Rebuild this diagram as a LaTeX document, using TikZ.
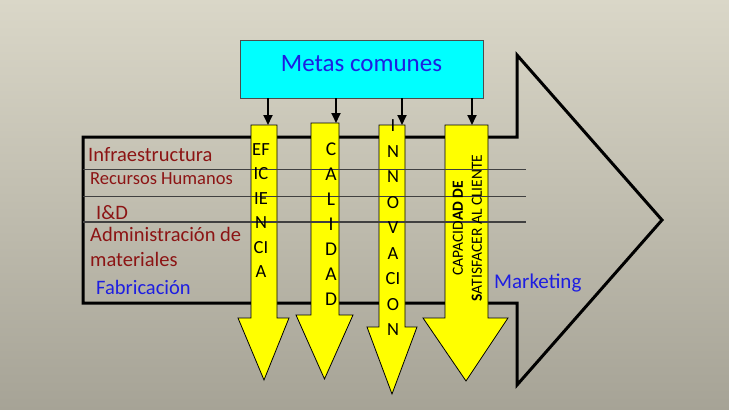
\documentclass[tikz,border=0pt]{standalone}
\usepackage{fontspec}
\setmainfont{Carlito}
\usetikzlibrary{arrows.meta}
\definecolor{bgtop}{RGB}{218,215,200}
\definecolor{bgbot}{RGB}{166,163,150}
\definecolor{dred}{RGB}{140,20,20}
\definecolor{tblue}{RGB}{30,30,225}
\definecolor{boxcyan}{RGB}{0,255,255}
\definecolor{ayellow}{RGB}{255,255,0}
\begin{document}
\begin{tikzpicture}[x=1pt,y=-1pt,
  bigarrow/.style={draw=black,line width=3pt,line join=miter},
  yarrow/.style={fill=ayellow,draw=black,line width=0.8pt,line join=miter},
  thinline/.style={draw=black!75,line width=1.1pt},
  lbl/.style={anchor=base west,inner sep=0pt,text=dred,font=\fontsize{20.5}{24}\selectfont},
  bluelbl/.style={anchor=base west,inner sep=0pt,text=tblue,font=\fontsize{21}{24}\selectfont},
  letters/.style={align=center,inner sep=0pt},
  metabox/.style={draw=black!70,line width=0.8pt,fill=boxcyan,minimum width=243pt,minimum height=58pt,
    text=tblue,font=\fontsize{25}{30}\selectfont,text height=16pt,text depth=12pt},
  conn/.style={draw=black,line width=1.8pt,-{Triangle[length=10pt,width=9pt]}}
]
\useasboundingbox (0,0) rectangle (729,410);
\shade[top color=bgtop,bottom color=bgbot] (0,0) rectangle (729,410);

% big arrow outline
\draw[bigarrow] (83,137) -- (517,137) -- (517,55) -- (662,220) -- (517,385) -- (517,303) -- (83,303) -- cycle;

% yellow arrows
\filldraw[yarrow] (251,125) -- (277,125) -- (277,318) -- (289,318) -- (264,380) -- (238,318) -- (251,318) -- cycle;
\filldraw[yarrow] (311,123) -- (339,123) -- (339,315) -- (353,315) -- (324.5,379) -- (296,315) -- (311,315) -- cycle;
\filldraw[yarrow] (379,125) -- (405,125) -- (405,327) -- (417,327) -- (392,394) -- (367,327) -- (379,327) -- cycle;
\filldraw[yarrow] (445,125) -- (488,125) -- (488,318) -- (508,318) -- (466,381) -- (423,318) -- (445,318) -- cycle;

% thin lines
\coordinate (l1a) at (83,169.5); \coordinate (l1b) at (526,169.5);
\coordinate (l2a) at (83,196.5); \coordinate (l2b) at (526,196.5);
\coordinate (l3a) at (83,222);   \coordinate (l3b) at (526,222);
\draw[thinline] (l1a) -- (l1b);
\draw[thinline] (l2a) -- (l2b);
\draw[thinline] (l3a) -- (l3b);

% left labels
\node[lbl] (infra) at (88,161) {Infraestructura};
\node[lbl,font=\fontsize{18.5}{22}\selectfont] (rrhh) at (90,184) {Recursos Humanos};
\node[lbl] (id) at (96,219) {I\&D};
\node[lbl] (adm) at (90,241) {Administración de};
\node[lbl] (mat) at (90,266) {materiales};
\node[bluelbl,font=\fontsize{20.5}{24}\selectfont] (fab) at (96,294) {Fabricación};
\node[bluelbl] (mkt) at (494,288) {Marketing};

% letters in yellow arrows
\node[letters,font=\fontsize{18.5}{24.5}\selectfont] (efi) at (261,210.4) {EF\\IC\\IE\\N\\CI\\A};
\node[letters,font=\fontsize{19.5}{25}\selectfont] (cal) at (331,223.9) {C\\A\\L\\I\\D\\A\\D};
\node[letters,font=\fontsize{18.5}{25.5}\selectfont] (inn) at (393,228) {I\\N\\N\\O\\V\\A\\CI\\O\\N};
\node[letters,rotate=90,font=\fontsize{15.5}{19}\selectfont] (cap) at (467.5,228) {CAPACID\textbf{AD DE}\\\textbf{S}ATISFACER AL CLIENTE};

% goals box
\node[metabox] (metas) at (361.5,69) {Metas comunes};

% connectors
\coordinate (t1) at (268,125);
\coordinate (t2) at (336,123);
\coordinate (t3) at (402,125);
\coordinate (t4) at (472,125);
\draw[conn] (metas.south -| t1) -- (t1);
\draw[conn] (metas.south -| t2) -- (t2);
\draw[conn] (metas.south -| t3) -- (t3);
\draw[conn] (metas.south -| t4) -- (t4);
\end{tikzpicture}
\end{document}
